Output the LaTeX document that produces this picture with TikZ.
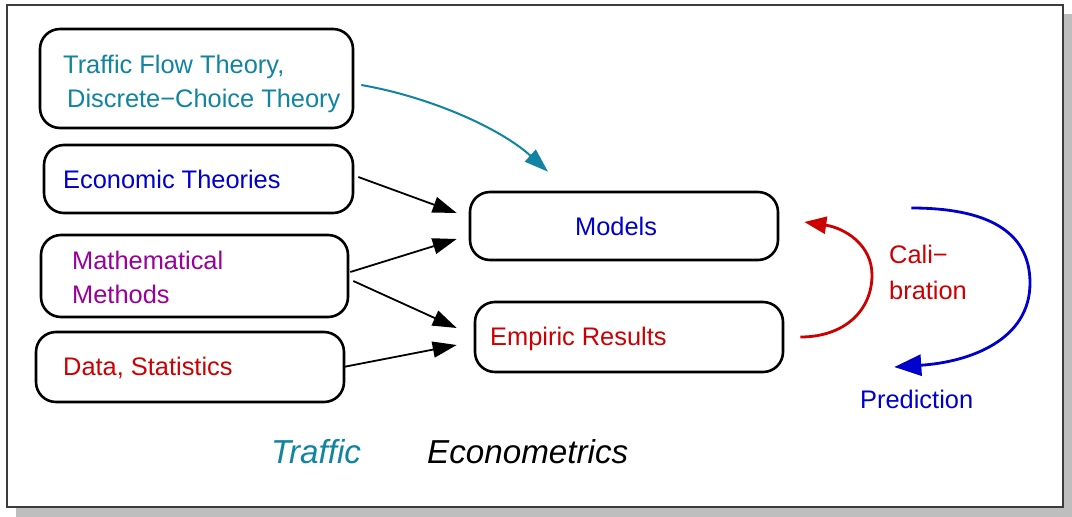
\documentclass[tikz,border=0pt]{standalone}
\usepackage{fontspec}
\setmainfont{Liberation Sans}
\usetikzlibrary{arrows.meta,calc}
\definecolor{tteal}{RGB}{16,132,160}
\definecolor{tblue}{RGB}{0,0,204}
\definecolor{tpurple}{RGB}{153,0,153}
\definecolor{tred}{RGB}{204,0,0}
\definecolor{shadowgray}{RGB}{190,190,190}
\definecolor{framegray}{RGB}{60,60,60}
\begin{document}
\begin{tikzpicture}[x=1pt,y=-1pt,
  box/.style={draw=black, line width=2.6pt, rounded corners=20pt, inner sep=0pt},
  lbl/.style={inner sep=0pt, anchor=base west, font=\fontsize{25.4}{30}\selectfont},
  big/.style={inner sep=0pt, anchor=base west, font=\fontsize{33.2}{38}\selectfont\itshape},
  conn/.style={line width=1.8pt, -{Triangle[length=24pt,width=16pt]}},
  curv/.style={line width=2.8pt},
]
\useasboundingbox (0,0) rectangle (1072,517);
% frame with shadow
\fill[shadowgray] (16,14) rectangle (1072,517);
\draw[line width=2pt, draw=framegray, fill=white] (7,5) rectangle (1063,507);

% boxes
\node[box, minimum width=313pt, minimum height=99pt] (tft) at (196.5,78.5) {};
\node[box, minimum width=309pt, minimum height=68pt] (eco) at (198.5,179) {};
\node[box, minimum width=307pt, minimum height=82pt] (math) at (194.5,276) {};
\node[box, minimum width=308pt, minimum height=70pt] (data) at (190,367) {};
\node[box, minimum width=308pt, minimum height=68pt] (models) at (624,226) {};
\node[box, minimum width=308pt, minimum height=70pt] (emp) at (629,337) {};

% labels
\node[lbl, text=tteal] (t1) at (63,73) {Traffic Flow Theory,};
\node[lbl, text=tteal] (t2) at (67,107) {Discrete−Choice Theory};
\node[lbl, text=tblue] (t3) at (63,188) {Economic Theories};
\node[lbl, text=tpurple] (t4) at (72,269) {Mathematical};
\node[lbl, text=tpurple] (t5) at (72,303) {Methods};
\node[lbl, text=tred] (t6) at (63,375) {Data, Statistics};
\node[lbl, text=tblue] (t7) at (575,235) {Models};
\node[lbl, text=tred] (t8) at (490,345) {Empiric Results};
\node[lbl, text=tred] (t9) at (889,263) {Cali−};
\node[lbl, text=tred] (t10) at (889,299) {bration};
\node[lbl, text=tblue] (t11) at (860,408) {Prediction};
\node[big, text=tteal] (t12) at (271,463) {Traffic};
\node[big, text=black] (t13) at (427,463) {Econometrics};

% straight connectors
\draw[conn] ($(eco.east)+(4,-2)$) -- ($(models.west)+(-12,-13)$);
\draw[conn] ($(math.east)+(1,-4)$) -- ($(models.west)+(-12,13)$);
\draw[conn] ($(math.east)+(4,5)$) -- ($(emp.west)+(-17,-9)$);
\draw[conn] ($(data.east)+(-2,0)$) -- ($(emp.west)+(-17,8)$);

% teal curve
\coordinate (ts) at ($(tft.east)+(7,6.5)$);
\coordinate (te) at ($(models.north)+(-76,-19)$);
\draw[line width=2pt, draw=tteal, -{Triangle[length=24pt,width=16pt]}, tteal]
  (ts) .. controls (430,97) and (500,128) .. (te);

% calibration (red)
\coordinate (rs) at ($(emp.east)+(16,0)$);
\coordinate (re) at ($(models.east)+(25,-4)$);
\draw[curv, draw=tred, tred, -{Triangle[length=22pt,width=17pt]}]
  (rs) .. controls (845,337) and (872,310) .. (872,275)
       .. controls (872,245) and (845,228) .. (re);

% prediction (blue)
\coordinate (bs) at ($(models.east)+(132,-18)$);
\coordinate (be) at ($(emp.east)+(110,30)$);
\draw[curv, draw=tblue, tblue, -{Triangle[length=27pt,width=21pt]}]
  (bs) .. controls (985,208) and (1030,230) .. (1030,283)
       .. controls (1030,340) and (970,362) .. (be);
\end{tikzpicture}
\end{document}
